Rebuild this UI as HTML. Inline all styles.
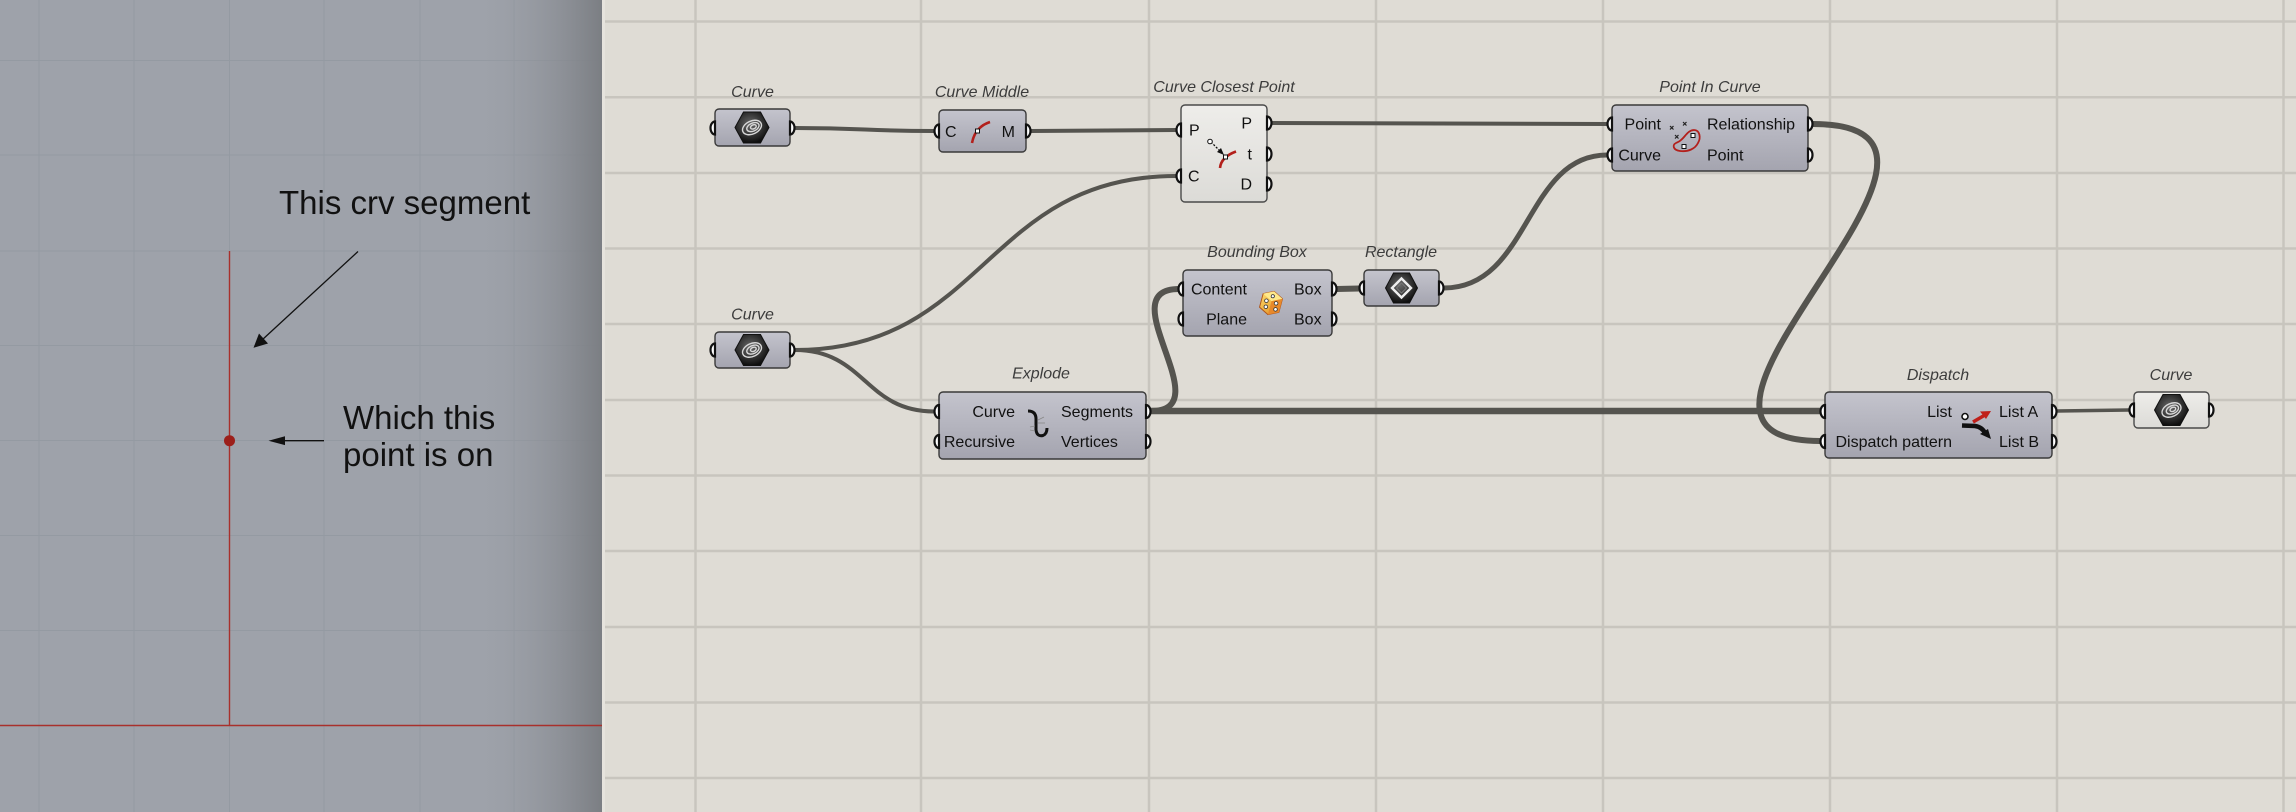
<!DOCTYPE html>
<html><head><meta charset="utf-8"><style>
html,body{margin:0;padding:0;background:#dfdcd5;}
svg{display:block;}
text{font-family:"Liberation Sans",Arial,sans-serif;}
.lbl{font-size:16px;font-style:italic;fill:#3c3c3c;text-anchor:middle;}
.p{font-size:16px;fill:#111;}
.r{text-anchor:end;}
.box{fill:url(#gbox);stroke:#3a3a3a;stroke-width:1.4;}
.lbox{fill:url(#glight);stroke:#4a4a4a;stroke-width:1.4;}
.grip{fill:#fff;stroke:#111;stroke-width:2.2;}
.w{fill:none;stroke:#55544f;stroke-linecap:round;}
.cg{stroke:#c8c5be;stroke-width:2.5;}
.lg{stroke:#949aa2;stroke-width:1;}
</style></head><body>
<svg width="2296" height="812" viewBox="0 0 2296 812" xmlns="http://www.w3.org/2000/svg">
<defs>
<linearGradient id="gbox" x1="0" y1="0" x2="0" y2="1"><stop offset="0" stop-color="#c4c4cd"/><stop offset="1" stop-color="#a4a4af"/></linearGradient>
<linearGradient id="glight" x1="0" y1="0" x2="0" y2="1"><stop offset="0" stop-color="#eeedea"/><stop offset="1" stop-color="#dcdbd7"/></linearGradient>
<linearGradient id="gshadow" x1="0" y1="0" x2="1" y2="0"><stop offset="0" stop-color="#9ea2aa" stop-opacity="0"/><stop offset="1" stop-color="#7b7e83" stop-opacity="1"/></linearGradient>
<radialGradient id="ghex" cx="0.45" cy="0.4" r="0.6"><stop offset="0" stop-color="#6a6a6a"/><stop offset="1" stop-color="#0e0e0e"/></radialGradient>
<linearGradient id="gdice" x1="0" y1="0" x2="1" y2="1"><stop offset="0" stop-color="#ffe070"/><stop offset="1" stop-color="#e08a1e"/></linearGradient>
</defs>

<!-- left viewport -->
<rect x="0" y="0" width="602" height="812" fill="#9ea2aa"/>
<g class="lg">
<line x1="39" y1="0" x2="39" y2="812"/><line x1="134" y1="0" x2="134" y2="812"/><line x1="229.5" y1="0" x2="229.5" y2="812"/>
<line x1="324" y1="0" x2="324" y2="812"/><line x1="420" y1="0" x2="420" y2="812"/><line x1="514" y1="0" x2="514" y2="812"/>
<line x1="0" y1="60.5" x2="602" y2="60.5"/><line x1="0" y1="155" x2="602" y2="155"/><line x1="0" y1="251" x2="602" y2="251"/>
<line x1="0" y1="345.5" x2="602" y2="345.5"/><line x1="0" y1="440.5" x2="602" y2="440.5"/><line x1="0" y1="535.5" x2="602" y2="535.5"/>
<line x1="0" y1="630.5" x2="602" y2="630.5"/>
</g>
<rect x="470" y="0" width="132" height="812" fill="url(#gshadow)"/>
<line x1="229.5" y1="251" x2="229.5" y2="725.5" stroke="#a8302c" stroke-width="1.4"/>
<line x1="0" y1="725.5" x2="602" y2="725.5" stroke="#a8302c" stroke-width="1.4"/>
<circle cx="229.5" cy="440.7" r="5.5" fill="#9c1f1a"/>
<text x="279" y="214" font-size="33" fill="#111">This crv segment</text>
<text x="343" y="429" font-size="33" fill="#111">Which this</text>
<text x="343" y="466" font-size="33" fill="#111">point is on</text>
<line x1="358" y1="251.5" x2="262" y2="340" stroke="#111" stroke-width="1.3"/>
<polygon points="253.5,347.8 259,333.5 268,343.5" fill="#111"/>
<line x1="324" y1="440.7" x2="282" y2="440.7" stroke="#111" stroke-width="1.3"/>
<polygon points="268.5,440.7 285,436.3 285,445.1" fill="#111"/>

<!-- canvas -->
<rect x="602" y="0" width="1694" height="812" fill="#dfdcd5"/>
<rect x="602" y="0" width="3" height="812" fill="#e6e3dd"/>
<g class="cg">
<line x1="695.5" y1="0" x2="695.5" y2="812"/><line x1="921" y1="0" x2="921" y2="812"/><line x1="1149" y1="0" x2="1149" y2="812"/>
<line x1="1376" y1="0" x2="1376" y2="812"/><line x1="1603" y1="0" x2="1603" y2="812"/><line x1="1830" y1="0" x2="1830" y2="812"/>
<line x1="2057" y1="0" x2="2057" y2="812"/><line x1="2283.5" y1="0" x2="2283.5" y2="812"/>
<line x1="605" y1="21.5" x2="2296" y2="21.5"/><line x1="605" y1="97.3" x2="2296" y2="97.3"/><line x1="605" y1="173" x2="2296" y2="173"/>
<line x1="605" y1="248.5" x2="2296" y2="248.5"/><line x1="605" y1="324" x2="2296" y2="324"/><line x1="605" y1="400" x2="2296" y2="400"/>
<line x1="605" y1="475.5" x2="2296" y2="475.5"/><line x1="605" y1="551" x2="2296" y2="551"/><line x1="605" y1="627" x2="2296" y2="627"/>
<line x1="605" y1="702.5" x2="2296" y2="702.5"/><line x1="605" y1="778" x2="2296" y2="778"/>
</g>

<!-- wires -->
<path class="w" stroke-width="4" d="M795,128 C865,128 865,131 934,131"/>
<path class="w" stroke-width="4" d="M1031,131 L1176,130"/>
<path class="w" stroke-width="4" d="M795,350 C985,350 985,176 1176,176"/>
<path class="w" stroke-width="4" d="M795,350 C865,350 865,411.5 934,411.5"/>
<path class="w" stroke-width="6" d="M1151,411 C1222,411 1108,289 1179,289"/>
<path class="w" stroke-width="6.5" d="M1151,411 L1820,411"/>
<path class="w" stroke-width="6" d="M1337,289 L1359,288.5"/>
<path class="w" stroke-width="5" d="M1444,288 C1530,288 1525,155 1607,155"/>
<path class="w" stroke-width="4" d="M1272,123 L1607,124"/>
<path class="w" stroke-width="6" d="M1813,124 C2030,124 1610,441 1820,441"/>
<path class="w" stroke-width="3.5" d="M2057,411 L2129,410"/>

<!-- Curve 1 -->
<text class="lbl" x="752.5" y="97">Curve</text>
<rect class="box" x="715" y="109" width="75" height="37" rx="4"/>
<path class="grip" d="M715,121.5 A4.5,6.5 0 0 0 715,134.5 Z"/>
<path class="grip" d="M790,121.5 A4.5,6.5 0 0 1 790,134.5 Z"/>
<g transform="translate(752,127.5)">
<polygon points="-17,0 -8.5,-15.5 8.5,-15.5 17,0 8.5,15.5 -8.5,15.5" fill="url(#ghex)" stroke="#111" stroke-width="1"/>
<g fill="none" stroke="#d8d8d8" stroke-width="1.4" transform="rotate(-25)">
<ellipse cx="0" cy="0" rx="10" ry="6.5"/><ellipse cx="1" cy="0" rx="6.5" ry="4"/><ellipse cx="1.5" cy="0" rx="3" ry="2"/></g>
</g>

<!-- Curve Middle -->
<text class="lbl" x="982" y="97">Curve Middle</text>
<rect class="box" x="939" y="110" width="87" height="42" rx="4"/>
<path class="grip" d="M939,124.5 A4.5,6.5 0 0 0 939,137.5 Z"/>
<path class="grip" d="M1026,124.5 A4.5,6.5 0 0 1 1026,137.5 Z"/>
<text class="p" x="945" y="137">C</text>
<text class="p r" x="1015" y="137">M</text>
<path d="M972,143 Q975,127 990,122" fill="none" stroke="#b3201c" stroke-width="2.6"/>
<rect x="975.5" y="129" width="4" height="4" fill="#fff" stroke="#111" stroke-width="1"/>

<!-- Curve Closest Point -->
<text class="lbl" x="1224" y="92">Curve Closest Point</text>
<rect class="lbox" x="1181" y="105" width="86" height="97" rx="4"/>
<path class="grip" d="M1181,123.5 A4.5,6.5 0 0 0 1181,136.5 Z"/>
<path class="grip" d="M1181,169.5 A4.5,6.5 0 0 0 1181,182.5 Z"/>
<path class="grip" d="M1267,116.5 A4.5,6.5 0 0 1 1267,129.5 Z"/>
<path class="grip" d="M1267,147.5 A4.5,6.5 0 0 1 1267,160.5 Z"/>
<path class="grip" d="M1267,177.5 A4.5,6.5 0 0 1 1267,190.5 Z"/>
<text class="p" x="1189" y="135.5">P</text>
<text class="p" x="1188" y="181.5">C</text>
<text class="p r" x="1252" y="128.5">P</text>
<text class="p r" x="1252" y="159.5">t</text>
<text class="p r" x="1252" y="189.5">D</text>
<line x1="1211" y1="142" x2="1221" y2="152" stroke="#111" stroke-width="1.3" stroke-dasharray="2,1.5"/>
<polygon points="1224,155 1217,152 1221,148" fill="#111"/>
<circle cx="1210" cy="141.5" r="2.3" fill="#fff" stroke="#111" stroke-width="1"/>
<path d="M1220,168 Q1221,157 1236,151.5" fill="none" stroke="#b3201c" stroke-width="2.6"/>
<rect x="1223.5" y="155" width="4" height="4" fill="#fff" stroke="#111" stroke-width="1"/>

<!-- Curve 2 -->
<text class="lbl" x="752.5" y="319.5">Curve</text>
<rect class="box" x="715" y="332" width="75" height="36" rx="4"/>
<path class="grip" d="M715,343.5 A4.5,6.5 0 0 0 715,356.5 Z"/>
<path class="grip" d="M790,343.5 A4.5,6.5 0 0 1 790,356.5 Z"/>
<g transform="translate(752,350)">
<polygon points="-17,0 -8.5,-15.5 8.5,-15.5 17,0 8.5,15.5 -8.5,15.5" fill="url(#ghex)" stroke="#111" stroke-width="1"/>
<g fill="none" stroke="#d8d8d8" stroke-width="1.4" transform="rotate(-25)">
<ellipse cx="0" cy="0" rx="10" ry="6.5"/><ellipse cx="1" cy="0" rx="6.5" ry="4"/><ellipse cx="1.5" cy="0" rx="3" ry="2"/></g>
</g>

<!-- Explode -->
<text class="lbl" x="1041" y="378.5">Explode</text>
<rect class="box" x="939" y="392" width="207" height="67" rx="4"/>
<path class="grip" d="M939,405 A4.5,6.5 0 0 0 939,418 Z"/>
<path class="grip" d="M939,435 A4.5,6.5 0 0 0 939,448 Z"/>
<path class="grip" d="M1146,405 A4.5,6.5 0 0 1 1146,418 Z"/>
<path class="grip" d="M1146,435 A4.5,6.5 0 0 1 1146,448 Z"/>
<text class="p r" x="1015" y="417">Curve</text>
<text class="p r" x="1015" y="447">Recursive</text>
<text class="p" x="1061" y="417">Segments</text>
<text class="p" x="1061" y="447">Vertices</text>
<path d="M1028,411 Q1036,411 1036,419 L1036,430 Q1037,437 1043,435.5 Q1047,434 1047,428" fill="none" stroke="#111" stroke-width="3"/>
<g stroke="#888" stroke-width="0.8"><line x1="1038" y1="420" x2="1044" y2="417"/><line x1="1038" y1="423" x2="1045" y2="423"/><line x1="1030" y1="427" x2="1035" y2="426"/><line x1="1030" y1="430" x2="1035" y2="431"/></g>

<!-- Bounding Box -->
<text class="lbl" x="1257" y="257">Bounding Box</text>
<rect class="box" x="1183" y="270" width="149" height="66" rx="4"/>
<path class="grip" d="M1183,282.5 A4.5,6.5 0 0 0 1183,295.5 Z"/>
<path class="grip" d="M1183,312.5 A4.5,6.5 0 0 0 1183,325.5 Z"/>
<path class="grip" d="M1332,282.5 A4.5,6.5 0 0 1 1332,295.5 Z"/>
<path class="grip" d="M1332,312.5 A4.5,6.5 0 0 1 1332,325.5 Z"/>
<text class="p r" x="1247" y="294.5">Content</text>
<text class="p r" x="1247" y="324.5">Plane</text>
<text class="p" x="1294" y="294.5">Box</text>
<text class="p" x="1294" y="324.5">Box</text>
<g transform="translate(1271,303) rotate(15)">
<polygon points="0,-12 10,-7 10,7 0,12 -10,7 -10,-7" fill="url(#gdice)" stroke="#b0561a" stroke-width="1"/>
<polygon points="0,-12 10,-7 0,-2 -10,-7" fill="#ffe98a"/>
<polygon points="0,-2 10,-7 10,7 0,12" fill="#e8892a"/>
<g fill="#fff" stroke="#333" stroke-width="0.8"><circle cx="-5" cy="-1" r="1.8"/><circle cx="-4" cy="5" r="1.8"/><circle cx="5" cy="-1" r="1.8"/><circle cx="6" cy="5" r="1.8"/><circle cx="0" cy="-7" r="1.6"/></g>
</g>

<!-- Rectangle -->
<text class="lbl" x="1401" y="257">Rectangle</text>
<rect class="box" x="1364" y="270" width="75" height="36" rx="4"/>
<path class="grip" d="M1364,281.5 A4.5,6.5 0 0 0 1364,294.5 Z"/>
<path class="grip" d="M1439,281.5 A4.5,6.5 0 0 1 1439,294.5 Z"/>
<g transform="translate(1401.5,288)">
<polygon points="-16,0 -8,-15 8,-15 16,0 8,15 -8,15" fill="url(#ghex)" stroke="#111" stroke-width="1"/>
<polygon points="0,-9.5 9.5,0 0,9.5 -9.5,0" fill="none" stroke="#eee" stroke-width="2.4"/>
<polygon points="0,-5 5,0 0,5 -5,0" fill="none" stroke="#777" stroke-width="1"/>
</g>

<!-- Point In Curve -->
<text class="lbl" x="1710" y="92">Point In Curve</text>
<rect class="box" x="1612" y="105" width="196" height="66" rx="4"/>
<path class="grip" d="M1612,117.5 A4.5,6.5 0 0 0 1612,130.5 Z"/>
<path class="grip" d="M1612,148.5 A4.5,6.5 0 0 0 1612,161.5 Z"/>
<path class="grip" d="M1808,117.5 A4.5,6.5 0 0 1 1808,130.5 Z"/>
<path class="grip" d="M1808,148.5 A4.5,6.5 0 0 1 1808,161.5 Z"/>
<text class="p r" x="1661" y="129.5">Point</text>
<text class="p r" x="1661" y="160.5">Curve</text>
<text class="p" x="1707" y="129.5">Relationship</text>
<text class="p" x="1707" y="160.5">Point</text>
<path d="M1681,140 C1685,137 1688,130 1694,130 C1700,130 1701,138 1698,143 C1695,149 1688,152 1680,151 C1673,150 1672,145 1676,143 C1678,142 1679,142 1681,140 Z" fill="none" stroke="#b3201c" stroke-width="1.8"/>
<g stroke="#222" stroke-width="1.2"><path d="M1670,126 l3.5,3.5 M1673.5,126 l-3.5,3.5"/><path d="M1683,122 l3.5,3.5 M1686.5,122 l-3.5,3.5"/><path d="M1675,135 l3.5,3.5 M1678.5,135 l-3.5,3.5"/></g>
<rect x="1691" y="133.5" width="4" height="4" fill="#fff" stroke="#111" stroke-width="1"/>
<rect x="1682" y="144.5" width="4" height="4" fill="#fff" stroke="#111" stroke-width="1"/>

<!-- Dispatch -->
<text class="lbl" x="1938" y="380">Dispatch</text>
<rect class="box" x="1825" y="392" width="227" height="66" rx="4"/>
<path class="grip" d="M1825,405 A4.5,6.5 0 0 0 1825,418 Z"/>
<path class="grip" d="M1825,435 A4.5,6.5 0 0 0 1825,448 Z"/>
<path class="grip" d="M2052,405 A4.5,6.5 0 0 1 2052,418 Z"/>
<path class="grip" d="M2052,435 A4.5,6.5 0 0 1 2052,448 Z"/>
<text class="p r" x="1952" y="417">List</text>
<text class="p r" x="1952" y="447">Dispatch pattern</text>
<text class="p" x="1999" y="417">List A</text>
<text class="p" x="1999" y="447">List B</text>
<path d="M1962,425.5 L1975,426 Q1982,427 1985,433" fill="none" stroke="#111" stroke-width="4.5"/>
<polygon points="1991,439 1980,434 1988,429" fill="#111"/>
<line x1="1973" y1="422" x2="1985" y2="415" stroke="#c0201a" stroke-width="3.5"/>
<polygon points="1991,411 1980,411.5 1986,419" fill="#c0201a"/>
<circle cx="1965" cy="416.5" r="3" fill="#fff" stroke="#111" stroke-width="1.6"/>

<!-- Curve 3 -->
<text class="lbl" x="2171" y="380">Curve</text>
<rect class="lbox" x="2134" y="392" width="75" height="36" rx="4"/>
<path class="grip" d="M2134,403.5 A4.5,6.5 0 0 0 2134,416.5 Z"/>
<path class="grip" d="M2209,403.5 A4.5,6.5 0 0 1 2209,416.5 Z"/>
<g transform="translate(2171.5,410)">
<polygon points="-17,0 -8.5,-15.5 8.5,-15.5 17,0 8.5,15.5 -8.5,15.5" fill="url(#ghex)" stroke="#111" stroke-width="1"/>
<g fill="none" stroke="#d8d8d8" stroke-width="1.4" transform="rotate(-25)">
<ellipse cx="0" cy="0" rx="10" ry="6.5"/><ellipse cx="1" cy="0" rx="6.5" ry="4"/><ellipse cx="1.5" cy="0" rx="3" ry="2"/></g>
</g>
</svg>
</body></html>
